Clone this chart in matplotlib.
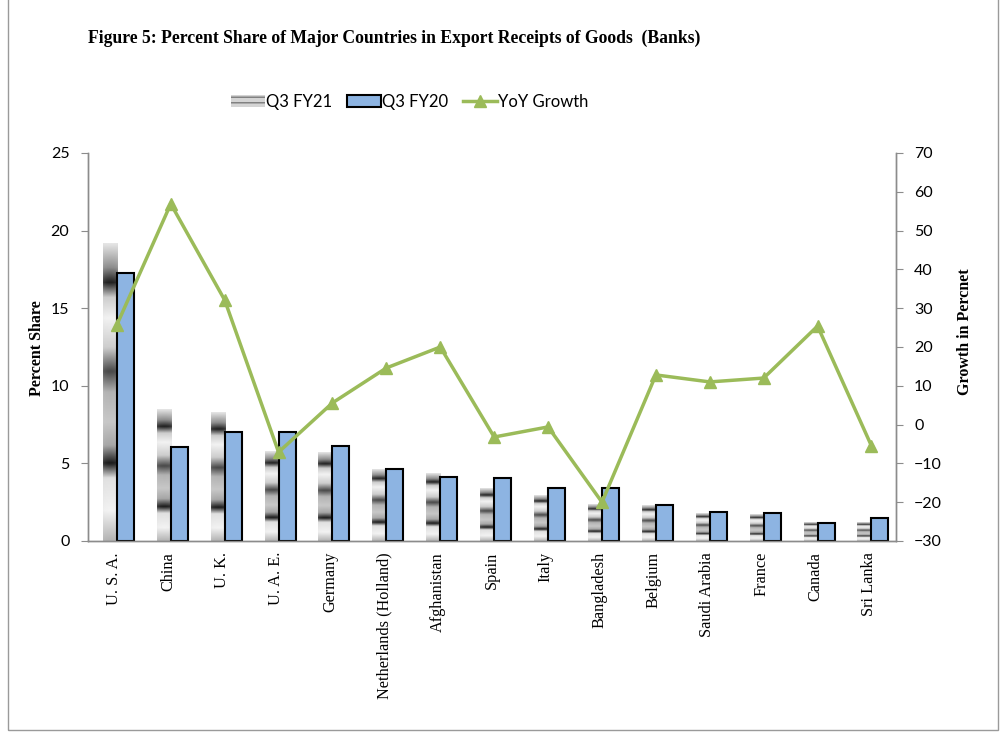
import numpy as np
import matplotlib
matplotlib.use("Agg")
import matplotlib.pyplot as plt
from matplotlib.patches import Patch, Rectangle
from matplotlib.lines import Line2D

countries = ["U. S. A.", "China", "U. K.", "U. A. E.", "Germany", "Netherlands (Holland)",
             "Afghanistan", "Spain", "Italy", "Bangladesh", "Belgium", "Saudi Arabia",
             "France", "Canada", "Sri Lanka"]
q3_fy21 = [19.2, 8.45, 8.25, 5.75, 5.68, 4.63, 4.32, 3.41, 2.96, 2.38, 2.27, 1.74, 1.70, 1.18, 1.18]
q3_fy20 = [17.25, 6.08, 7.0, 7.0, 6.12, 4.62, 4.14, 4.04, 3.43, 3.43, 2.32, 1.85, 1.80, 1.14, 1.46]
yoy_growth = [25.7, 56.9, 32.1, -7.1, 5.6, 14.6, 20.0, -3.2, -0.6, -20.0, 12.8, 11.0, 12.0, 25.4, -5.5]

W, H = 1004, 733
fig = plt.figure(figsize=(W / 100, H / 100), dpi=100)
ax = fig.add_axes([87.5 / W, 1 - 541 / H, (896 - 87.5) / W, (541 - 153) / H])
ax2 = ax.twinx()

n = len(countries)
x = np.arange(n)
axis_col = "#8c8c8c"

# gradient profile for gray bars (fraction from top -> brightness)
tp = [0.0, 0.08, 0.13, 0.18, 0.25, 0.35, 0.43, 0.5, 0.6, 0.68, 0.74, 0.79, 0.9, 1.0]
bp = [0.9, 0.55, 0.12, 0.8, 0.95, 0.8, 0.28, 0.7, 0.78, 0.65, 0.1, 0.88, 0.95, 0.7]
tt = np.linspace(0, 1, 200)
prof = np.interp(tt, tp, bp)
hx = np.linspace(0, 1, 20)
hprof = 0.85 + 0.15 * np.sin(np.pi * hx) ** 0.5

g0, g1 = -0.215, 0.045
b0, b1 = 0.045, 0.36
for i, v in enumerate(q3_fy21):
    img = np.clip(prof[:, None] * hprof[None, :] + (1 - hprof[None, :]) * 0.85, 0, 1)
    ax.imshow(img, extent=[i + g0, i + g1, 0, v], aspect="auto", cmap="gray",
              vmin=0, vmax=1, origin="upper", zorder=2, interpolation="bilinear")

ax.bar(x + (b0 + b1) / 2, q3_fy20, width=b1 - b0, color="#8DB4E2",
       edgecolor="black", linewidth=1.5, zorder=3)

ax2.plot(x + 0.045, yoy_growth, color="#9BBB59", linewidth=2.5, marker="^",
         markersize=9, zorder=4)

ax.set_xlim(-0.5, n - 0.5)
ax.set_ylim(0, 25)
ax2.set_ylim(-30, 70)
ax.set_yticks(range(0, 26, 5))
ax2.set_yticks(range(-30, 71, 10))
ax.set_xticks(x)
ax.set_xticklabels(countries, rotation=90, family="Liberation Serif", fontsize=11.7)
ax.tick_params(axis="x", length=0, pad=8)
ax.tick_params(axis="y", direction="out", length=5, color=axis_col, labelsize=11.5, pad=8)
ax2.tick_params(axis="y", direction="out", length=5, color=axis_col, labelsize=11.5, pad=8)
for lab in ax.get_yticklabels() + ax2.get_yticklabels():
    lab.set_family("Lato")

for a in (ax, ax2):
    a.spines["top"].set_visible(False)
    for s in ("left", "right", "bottom"):
        a.spines[s].set_color(axis_col)
        a.spines[s].set_linewidth(1.0)
ax2.set_zorder(ax.get_zorder() + 1)
ax2.patch.set_visible(False)

fig.text(37 / W, 1 - 348 / H, "Percent Share", rotation=90, ha="center", va="center",
         family="Liberation Serif", fontweight="bold", fontsize=11.5)
fig.text(965 / W, 1 - 332 / H, "Growth in Percnet", rotation=90, ha="center", va="center",
         family="Liberation Serif", fontweight="bold", fontsize=11.5)

fig.text(88 / W, 1 - 38 / H, "Figure 5: Percent Share of Major Countries in Export Receipts of Goods  (Banks)",
         ha="left", va="center", family="Liberation Serif", fontweight="bold", fontsize=12.7)

handles = [Patch(facecolor="#d4d4d4", edgecolor="#7a7a7a", hatch="---", linewidth=0),
           Patch(facecolor="#8DB4E2", edgecolor="black", linewidth=1.5),
           Line2D([0], [0], color="#9BBB59", linewidth=2.5, marker="^", markersize=9)]
leg = fig.legend(handles, ["Q3 FY21", "Q3 FY20", "YoY Growth"], loc="center",
                 bbox_to_anchor=(410 / W, 1 - 102 / H), ncol=3, frameon=False,
                 prop={"family": "Lato", "size": 12}, handlelength=2.0,
                 handletextpad=0.1, columnspacing=0.9)

fig.patches.append(Rectangle((8 / W, 3 / H), (998 - 8) / W, 1.2, transform=fig.transFigure,
                             fill=False, edgecolor="#9a9a9a", linewidth=1.0))

fig.savefig("out.png", dpi=100, facecolor="white")
